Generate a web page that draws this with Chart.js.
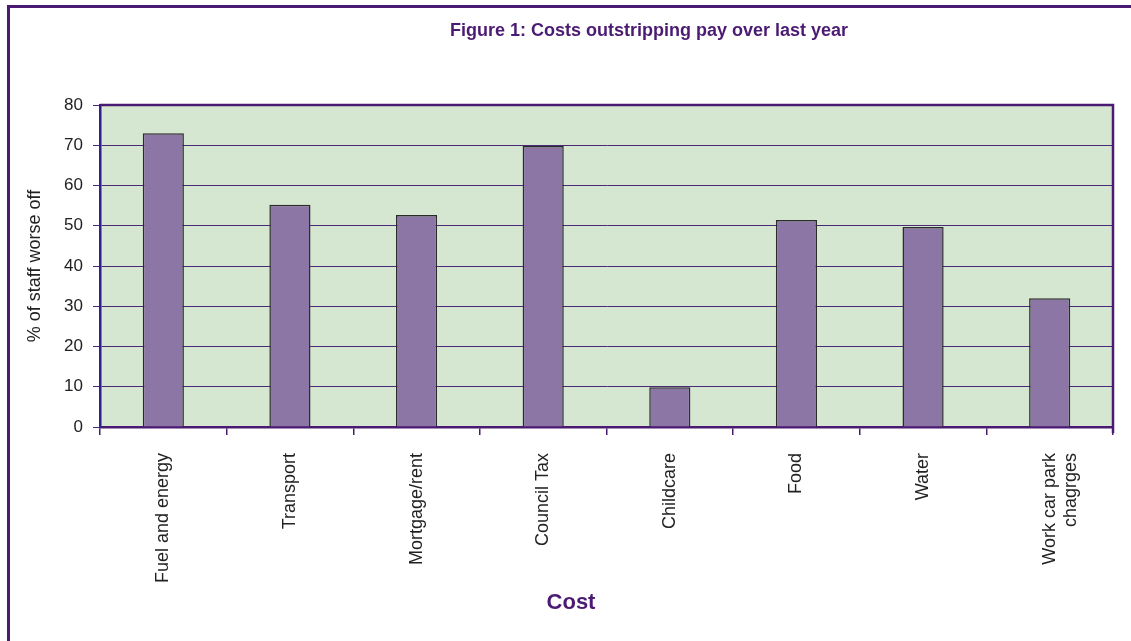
<!DOCTYPE html>
<html>
<head>
<meta charset="utf-8">
<title>Costs outstripping pay</title>
<script src="https://cdn.jsdelivr.net/npm/chart.js@4.4.1/dist/chart.umd.min.js"></script>
<style>
  html, body { margin: 0; padding: 0; background: #fff; }
  #costs-canvas { display: block; }
</style>
</head>
<body>
<canvas id="costs-canvas" width="1131" height="641"></canvas>
<script>
// cost categories and share of staff worse off (%)
var costLabels = ['Fuel and energy', 'Transport', 'Mortgage/rent', 'Council Tax',
                  'Childcare', 'Food', 'Water', ['Work car park', 'chagrges']];
var worseOff = [73, 55.2, 52.7, 69.8, 9.9, 51.4, 49.7, 32];
var yTicks = [0, 10, 20, 30, 40, 50, 60, 70, 80];

var chartTitle = 'Figure 1: Costs outstripping pay over last year';
var xTitle = 'Cost';

var purple = '#4b1a72';
var fontFamily = '"Liberation Sans", Arial, sans-serif';

// page frame, green plot background, purple top/right plot edges,
// and the headings (title sits off-centre, right of the plot middle)
var framePlugin = {
  id: 'frame',
  beforeDraw: function(chart) {
    var ctx = chart.ctx;
    var a = chart.chartArea;
    ctx.save();
    ctx.strokeStyle = purple;
    ctx.lineWidth = 3;
    ctx.beginPath();
    ctx.moveTo(8.5, 641);
    ctx.lineTo(8.5, 6.5);
    ctx.lineTo(1131, 6.5);
    ctx.stroke();
    ctx.fillStyle = '#d6e7d1';
    ctx.fillRect(a.left, a.top, a.right - a.left, a.bottom - a.top);
    ctx.restore();
  },
  afterDraw: function(chart) {
    var ctx = chart.ctx;
    var a = chart.chartArea;
    ctx.save();
    ctx.strokeStyle = purple;
    ctx.lineWidth = 2.5;
    ctx.beginPath();
    ctx.moveTo(a.left, a.top);
    ctx.lineTo(a.right, a.top);
    ctx.lineTo(a.right, a.bottom + 6);
    ctx.stroke();

    ctx.fillStyle = purple;
    ctx.textAlign = 'center';
    ctx.textBaseline = 'middle';
    ctx.font = 'bold 18px ' + fontFamily;
    ctx.fillText(chartTitle, 649, 31);
    ctx.font = 'bold 22px ' + fontFamily;
    ctx.fillText(xTitle, 571, 603);
    ctx.restore();
  }
};

var ctx = document.getElementById('costs-canvas').getContext('2d');
var costChart = new Chart(ctx, {
  type: 'bar',
  data: {
    labels: costLabels,
    datasets: [{
      label: '% of staff worse off',
      data: worseOff,
      backgroundColor: '#8b76a6',
      borderColor: '#2b2b2b',
      borderWidth: 1.5,
      barPercentage: 0.65,
      categoryPercentage: 0.5
    }]
  },
  plugins: [framePlugin],
  options: {
    responsive: false,
    animation: false,
    layout: { padding: { left: 0, right: 18, top: 105, bottom: 0 } },
    plugins: {
      legend: { display: false },
      tooltip: { enabled: false },
      title: { display: false }
    },
    scales: {
      x: {
        afterFit: function(scale) { scale.height = 214; },
        grid: {
          display: true,
          offset: true,
          drawOnChartArea: false,
          drawTicks: true,
          tickLength: 8,
          color: purple,
          lineWidth: 1.5
        },
        border: { display: true, color: purple, width: 2.5 },
        ticks: {
          color: '#222',
          font: { family: fontFamily, size: 18 },
          minRotation: 90,
          maxRotation: 90,
          autoSkip: false,
          padding: 18
        }
      },
      y: {
        min: 0,
        max: 80,
        afterFit: function(scale) { scale.width = 100; },
        afterBuildTicks: function(scale) {
          scale.ticks = yTicks.map(function(v) { return { value: v }; });
        },
        grid: {
          color: '#4a2a78',
          lineWidth: 1,
          drawTicks: true,
          tickLength: 7
        },
        border: { display: true, color: '#2e1f8c', width: 2.5 },
        ticks: {
          color: '#222',
          font: { family: fontFamily, size: 17 },
          padding: 10
        },
        title: {
          display: true,
          text: '% of staff worse off',
          color: '#222',
          font: { family: fontFamily, size: 18 },
          padding: { top: 24, bottom: 0 }
        }
      }
    }
  }
});
</script>
</body>
</html>
